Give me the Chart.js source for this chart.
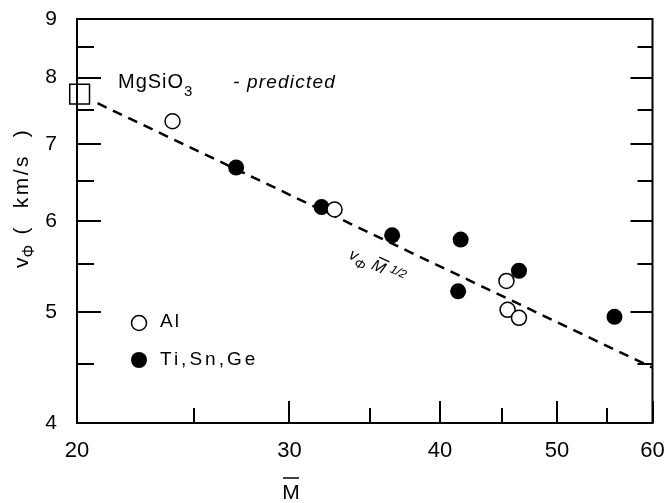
<!DOCTYPE html>
<html>
<head>
<meta charset="utf-8">
<script src="https://cdn.jsdelivr.net/npm/chart.js@4.4.1/dist/chart.umd.min.js"></script>
<style>
  html, body { margin: 0; padding: 0; background: #fff; }
  #wrap { width: 668px; height: 503px; }
</style>
</head>
<body>
<div id="wrap"><canvas id="chart" width="668" height="503"></canvas></div>
<script>
// mean atomic mass (x) vs bulk sound velocity (y), log-log
const xTickValues = [20, 25, 30, 35, 40, 45, 50, 55, 60];
const xTickLabels = ['20', '', '30', '', '40', '', '50', '', '60'];
const yTickValues = [4, 4.5, 5, 5.5, 6, 6.5, 7, 7.5, 8, 8.5, 9];
const yTickLabels = ['4', '', '5', '', '6', '', '7', '', '8', '', '9'];

const alM = [24.0, 32.7, 45.4, 45.5, 46.5];
const alV = [7.33, 6.14, 5.32, 5.02, 4.94];

const tiM = [27.1, 31.9, 36.5, 41.6, 41.4, 46.5, 55.8];
const tiV = [6.68, 6.17, 5.83, 5.78, 5.21, 5.43, 4.95];

const predM = [20.1];
const predV = [7.74];

// v * M^1/2 = const trend line end points
const trendM = [20.8, 60];
const trendV = [7.60, 4.47];

const FONT = '"Liberation Sans", Arial, Helvetica, sans-serif';

const toPts = (xs, ys) => xs.map((x, i) => ({x: x, y: ys[i]}));

function drawText(ctx, str, x, y, size, opts) {
    opts = opts || {};
    ctx.font = (opts.italic ? 'italic ' : '') + size + 'px ' + FONT;
    ctx.letterSpacing = (opts.spacing || 0) + 'px';
    ctx.fillText(str, x, y);
    const w = ctx.measureText(str).width;
    ctx.letterSpacing = '0px';
    return x + w;
}

const framePlugin = {
    id: 'frame',
    afterDatasetsDraw(chart) {
        const ctx = chart.ctx;
        const a = chart.chartArea;
        const xs = chart.scales.x, ys = chart.scales.y;
        ctx.save();
        ctx.strokeStyle = '#000';
        ctx.lineWidth = 2;
        ctx.strokeRect(a.left, a.top, a.right - a.left, a.bottom - a.top);

        // inward tick marks: bottom, left and right
        ctx.beginPath();
        xTickValues.forEach((v, i) => {
            const px = Math.round(xs.getPixelForValue(v));
            const len = xTickLabels[i] ? 22 : 15;
            ctx.moveTo(px, a.bottom);
            ctx.lineTo(px, a.bottom - len);
        });
        yTickValues.forEach((v, i) => {
            const py = Math.round(ys.getPixelForValue(v));
            const major = yTickLabels[i] !== '';
            ctx.moveTo(a.left, py);
            ctx.lineTo(a.left + (major ? 24 : 17), py);
            ctx.moveTo(a.right, py);
            ctx.lineTo(a.right - (major ? 22 : 15), py);
        });
        ctx.stroke();

        ctx.fillStyle = '#000';
        ctx.textBaseline = 'alphabetic';
        ctx.textAlign = 'left';

        // predicted point label
        let x = drawText(ctx, 'MgSiO', 118, 88, 20, {spacing: 1});
        drawText(ctx, '3', x, 96, 15);
        drawText(ctx, '- predicted', 233, 88, 19, {italic: true, spacing: 1.2});

        // trend label, along the dashed line
        ctx.save();
        ctx.translate(348, 258);
        ctx.rotate(25 * Math.PI / 180);
        let t = drawText(ctx, 'v', 0, 0, 16, {italic: true});
        t = drawText(ctx, 'Φ', t, 5, 13, {italic: true});
        t += 6;
        const mx = t;
        t = drawText(ctx, 'M', t, 0, 16, {italic: true});
        ctx.lineWidth = 1.3;
        ctx.beginPath();
        ctx.moveTo(mx + 3, -14);
        ctx.lineTo(t + 1, -14);
        ctx.stroke();
        drawText(ctx, '1/2', t + 5, -5, 12, {italic: true});
        ctx.restore();

        // legend
        ctx.lineWidth = 1.5;
        ctx.beginPath();
        ctx.arc(139, 323, 7.5, 0, Math.PI * 2);
        ctx.fillStyle = '#fff';
        ctx.fill();
        ctx.stroke();
        ctx.fillStyle = '#000';
        ctx.beginPath();
        ctx.arc(139, 360, 8, 0, Math.PI * 2);
        ctx.fill();
        ctx.textBaseline = 'middle';
        drawText(ctx, 'Al', 160, 322, 19, {spacing: 2});
        drawText(ctx, 'Ti,Sn,Ge', 160, 360, 19, {spacing: 3});

        // y axis title
        ctx.save();
        ctx.translate(28, 268);
        ctx.rotate(-Math.PI / 2);
        ctx.textBaseline = 'alphabetic';
        let q = drawText(ctx, 'v', 0, 0, 21);
        q = drawText(ctx, 'Φ', q, 6, 16);
        drawText(ctx, ' (  km/s  )', q + 2, 0, 21, {spacing: 2.5});
        ctx.restore();

        // x axis title with overbar
        ctx.textBaseline = 'alphabetic';
        ctx.textAlign = 'center';
        drawText(ctx, 'M', 291, 499, 21);
        ctx.lineWidth = 1.5;
        ctx.beginPath();
        ctx.moveTo(283, 478);
        ctx.lineTo(299, 478);
        ctx.stroke();
        ctx.restore();
    }
};

new Chart(document.getElementById('chart'), {
    type: 'scatter',
    data: {
        datasets: [
            {
                label: 'MgSiO3 predicted',
                data: toPts(predM, predV),
                pointStyle: 'rect',
                pointRadius: 14,
                backgroundColor: '#fff',
                borderColor: '#000',
                borderWidth: 1.5,
                clip: false,
                order: 0
            },
            {
                label: 'Al',
                data: toPts(alM, alV),
                pointRadius: 7.5,
                backgroundColor: '#fff',
                borderColor: '#000',
                borderWidth: 1.5,
                clip: false,
                order: 1
            },
            {
                label: 'Ti,Sn,Ge',
                data: toPts(tiM, tiV),
                pointRadius: 8,
                backgroundColor: '#000',
                borderColor: '#000',
                borderWidth: 0,
                clip: false,
                order: 2
            },
            {
                type: 'line',
                label: 'trend',
                data: toPts(trendM, trendV),
                borderColor: '#000',
                borderWidth: 2.5,
                borderDash: [10, 7],
                pointRadius: 0,
                fill: false,
                order: 3
            }
        ]
    },
    options: {
        responsive: false,
        animation: false,
        events: [],
        layout: { padding: { top: 19, right: 15, left: 0, bottom: 0 } },
        plugins: { legend: { display: false }, tooltip: { enabled: false } },
        scales: {
            x: {
                type: 'logarithmic',
                min: 20,
                max: 60,
                afterBuildTicks: s => { s.ticks = xTickValues.map(v => ({value: v})); },
                afterFit: s => { s.height = 80; s.paddingLeft = 0; s.paddingRight = 0; },
                grid: { display: false },
                border: { display: false },
                ticks: {
                    autoSkip: false,
                    maxRotation: 0,
                    padding: 7,
                    color: '#000',
                    font: { family: FONT, size: 22 },
                    callback: (v, i) => xTickLabels[i]
                }
            },
            y: {
                type: 'logarithmic',
                min: 4,
                max: 9,
                afterBuildTicks: s => { s.ticks = yTickValues.map(v => ({value: v})); },
                afterFit: s => { s.width = 77; s.paddingTop = 0; s.paddingBottom = 0; },
                grid: { display: false },
                border: { display: false },
                ticks: {
                    autoSkip: false,
                    padding: 12,
                    color: '#000',
                    font: { family: FONT, size: 21 },
                    callback: (v, i) => yTickLabels[i]
                }
            }
        }
    },
    plugins: [framePlugin]
});
</script>
</body>
</html>
